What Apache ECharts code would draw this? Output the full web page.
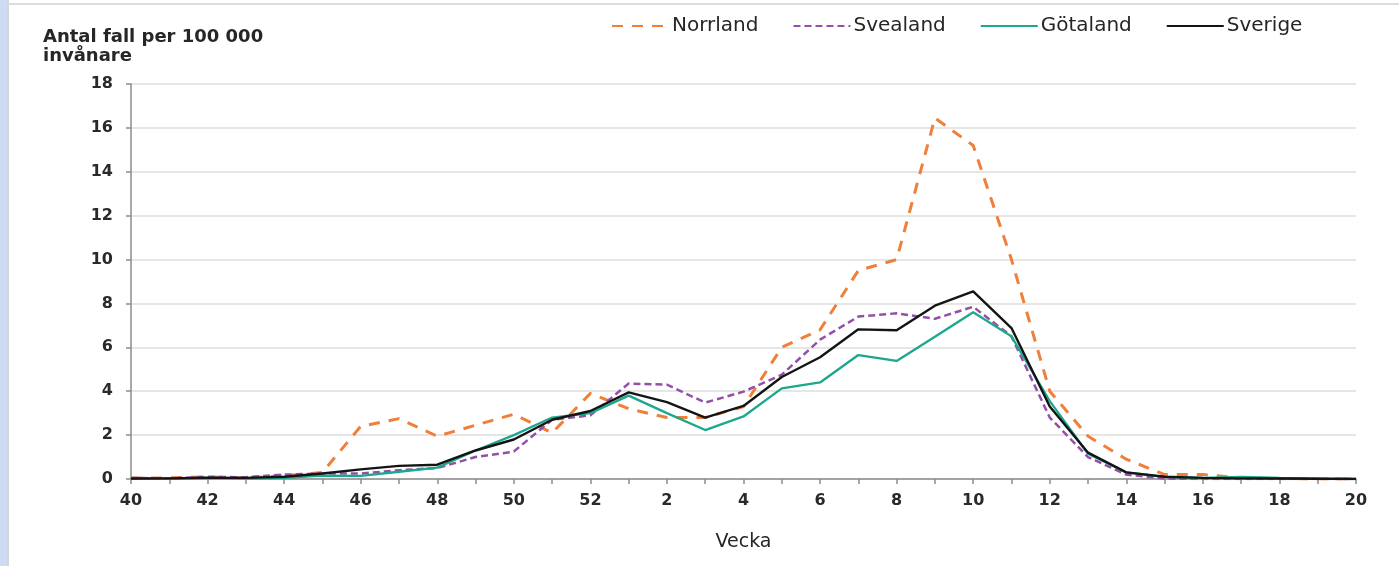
<!DOCTYPE html>
<html>
<head>
<meta charset="utf-8">
<script src="https://cdn.jsdelivr.net/npm/echarts@6/dist/echarts.min.js"></script>
<style>
html, body { margin: 0; padding: 0; background: #fff; }
#wrap { position: relative; width: 1399px; height: 566px; overflow: hidden; }
#chart { position: absolute; left: 0; top: 0; width: 1399px; height: 566px; }
.edge-blue { position: absolute; left: 0; top: 0; width: 7px; height: 566px; background: #cddcf3; }
.edge-grey { position: absolute; left: 7px; top: 0; width: 2px; height: 566px; background: #d4d4d4; }
.edge-top { position: absolute; left: 7px; top: 3px; right: 0; height: 2px; background: #dcdcdc; }
</style>
</head>
<body>
<div id="wrap">
    <div id="chart"></div>
    <div class="edge-blue"></div>
    <div class="edge-grey"></div>
    <div class="edge-top"></div>
</div>
<script>
// veckor 40-52, 1-20
const weeks = ['40', '41', '42', '43', '44', '45', '46', '47', '48', '49', '50', '51', '52',
    '1', '2', '3', '4', '5', '6', '7', '8', '9', '10', '11', '12', '13', '14', '15', '16', '17', '18', '19', '20']

// antal fall per 100 000 invånare
const norrland = [0.05, 0.05, 0.1, 0.05, 0.15, 0.3, 2.4, 2.75, 1.95, 2.45, 2.95, 2.1, 3.9,
    3.2, 2.8, 2.8, 3.3, 6.0, 6.8, 9.5, 10.0, 16.45, 15.2, 10.0, 4.0, 1.95, 0.9, 0.2, 0.2, 0.05, 0.02, 0, 0]
const svealand = [0.05, 0.02, 0.1, 0.08, 0.2, 0.25, 0.25, 0.4, 0.5, 1.0, 1.25, 2.7, 2.9,
    4.35, 4.3, 3.48, 3.98, 4.75, 6.35, 7.4, 7.55, 7.3, 7.85, 6.5, 2.8, 1.0, 0.2, 0.02, 0, 0, 0, 0, 0]
const gotaland = [0.02, 0.02, 0.05, 0.02, 0.05, 0.15, 0.14, 0.33, 0.52, 1.3, 2.0, 2.8, 3.0,
    3.8, 3.0, 2.23, 2.85, 4.13, 4.4, 5.65, 5.38, 6.48, 7.6, 6.5, 3.55, 1.15, 0.3, 0.1, 0.05, 0.1, 0.05, 0.02, 0]
const sverige = [0.02, 0.03, 0.06, 0.05, 0.1, 0.25, 0.44, 0.6, 0.65, 1.3, 1.8, 2.7, 3.1,
    3.95, 3.5, 2.8, 3.33, 4.65, 5.55, 6.82, 6.78, 7.9, 8.55, 6.88, 3.3, 1.2, 0.3, 0.1, 0.05, 0.03, 0.02, 0.01, 0]

const chart = echarts.init(document.getElementById('chart'))

const option = {
    animation: false,
    textStyle: { fontFamily: 'DejaVu Sans' },
    title: {
        text: 'Antal fall per 100 000\ninvånare',
        left: 43,
        top: 28,
        padding: 0,
        textStyle: {
            fontFamily: 'DejaVu Sans',
            fontSize: 18,
            fontWeight: 'bold',
            color: '#262626',
            lineHeight: 19,
        },
    },
    legend: {
        top: 16,
        left: 611,
        padding: 0,
        itemWidth: 57,
        itemHeight: 14,
        itemGap: 34,
        itemStyle: { opacity: 0 },
        textStyle: {
            fontFamily: 'DejaVu Sans',
            fontSize: 20,
            color: '#262626',
            padding: [0, 0, 0, -2],
        },
        data: ['Norrland', 'Svealand', 'Götaland', 'Sverige'],
    },
    grid: {
        left: 131,
        right: 43,
        top: 84,
        bottom: 87,
    },
    xAxis: {
        type: 'category',
        data: weeks,
        boundaryGap: false,
        name: 'Vecka',
        nameLocation: 'middle',
        nameGap: 54,
        nameTextStyle: { fontSize: 19, color: '#262626', fontFamily: 'DejaVu Sans' },
        axisLine: { lineStyle: { color: '#8c8c8c', width: 1.5 } },
        axisTick: { interval: 0, length: 5, lineStyle: { color: '#8c8c8c', width: 1.5 } },
        axisLabel: {
            interval: 1,
            margin: 14,
            fontSize: 16,
            fontWeight: 'bold',
            color: '#2a2a2a',
            fontFamily: 'DejaVu Sans',
        },
        splitLine: { show: false },
    },
    yAxis: {
        type: 'value',
        min: 0,
        max: 18,
        interval: 2,
        axisLine: { show: true, lineStyle: { color: '#8c8c8c', width: 1.5 } },
        axisTick: { show: true, length: 5, lineStyle: { color: '#8c8c8c', width: 1.5 } },
        axisLabel: {
            margin: 18,
            fontSize: 16,
            fontWeight: 'bold',
            color: '#2a2a2a',
            fontFamily: 'DejaVu Sans',
        },
        splitLine: { lineStyle: { color: '#dedede', width: 1.5 } },
    },
    series: [
        {
            name: 'Norrland',
            type: 'line',
            data: norrland,
            symbol: 'none',
            itemStyle: { color: '#f07f3a' },
            lineStyle: { color: '#f07f3a', width: 3, type: [11, 9] },
        },
        {
            name: 'Svealand',
            type: 'line',
            data: svealand,
            symbol: 'none',
            itemStyle: { color: '#9450a8' },
            lineStyle: { color: '#9450a8', width: 2.5, type: [7, 4] },
        },
        {
            name: 'Götaland',
            type: 'line',
            data: gotaland,
            symbol: 'none',
            itemStyle: { color: '#1ba88d' },
            lineStyle: { color: '#1ba88d', width: 2.3 },
        },
        {
            name: 'Sverige',
            type: 'line',
            data: sverige,
            symbol: 'none',
            itemStyle: { color: '#141414' },
            lineStyle: { color: '#141414', width: 2.4 },
        },
    ],
}

chart.setOption(option)
</script>
</body>
</html>
